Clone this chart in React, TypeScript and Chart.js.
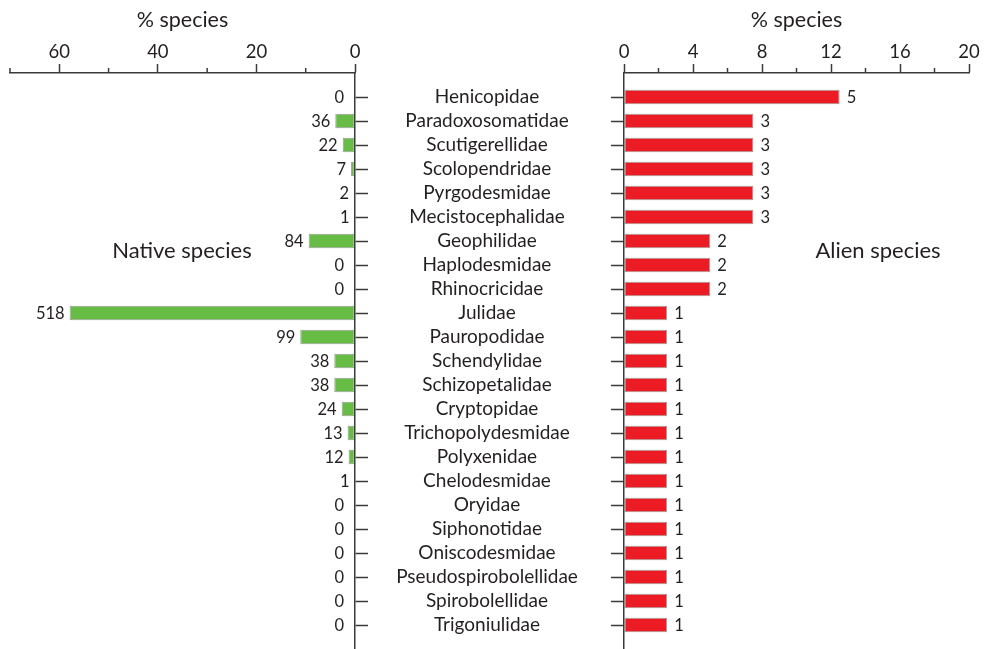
import React, { useEffect, useRef } from 'react';
import { Chart, registerables } from 'chart.js';

Chart.register(...registerables);

const families = [
  'Henicopidae', 'Paradoxosomatidae', 'Scutigerellidae', 'Scolopendridae', 'Pyrgodesmidae',
  'Mecistocephalidae', 'Geophilidae', 'Haplodesmidae', 'Rhinocricidae', 'Julidae',
  'Pauropodidae', 'Schendylidae', 'Schizopetalidae', 'Cryptopidae', 'Trichopolydesmidae',
  'Polyxenidae', 'Chelodesmidae', 'Oryidae', 'Siphonotidae', 'Oniscodesmidae',
  'Pseudospirobolellidae', 'Spirobolellidae', 'Trigoniulidae',
];
const nativeCounts = [0, 36, 22, 7, 2, 1, 84, 0, 0, 518, 99, 38, 38, 24, 13, 12, 1, 0, 0, 0, 0, 0, 0];
const nativePct = [0, 4.0, 2.5, 0.8, 0.2, 0.1, 9.4, 0, 0, 57.9, 11.1, 4.2, 4.2, 2.7, 1.5, 1.3, 0.1, 0, 0, 0, 0, 0, 0];
const alienCounts = [5, 3, 3, 3, 3, 3, 2, 2, 2, 1, 1, 1, 1, 1, 1, 1, 1, 1, 1, 1, 1, 1, 1];
const alienPct = [12.5, 7.5, 7.5, 7.5, 7.5, 7.5, 5, 5, 5, 2.5, 2.5, 2.5, 2.5, 2.5, 2.5, 2.5, 2.5, 2.5, 2.5, 2.5, 2.5, 2.5, 2.5];
const nativeMajorTicks = [0, 20, 40, 60];
const nativeMinorTicks = [10, 30, 50, 70];
const alienMajorTicks = [0, 4, 8, 12, 16, 20];
const alienMinorTicks = [2, 6, 10, 14, 18];
const axisTitle = '% species';

const FONT = 'Lato, "Open Sans", sans-serif';
const TEXT = '#231f20';
const AXIS = '#3a3a3a';
const GREEN = '#67bc46';
const RED = '#ed1c24';
const BAR_BORDER = 'rgba(90,90,90,0.6)';

const labels = ['', ...families, ''];
const padData = (arr: number[]) => [null, ...arr, null];

const minorTicksPlugin = (minor: number[]) => ({
  id: 'minorTicks',
  afterDraw(chart: any) {
    const x = chart.scales.x;
    const ctx = chart.ctx;
    ctx.save();
    ctx.strokeStyle = AXIS;
    ctx.lineWidth = 1.5;
    minor.forEach((v) => {
      const px = x.getPixelForValue(v);
      ctx.beginPath();
      ctx.moveTo(px, x.bottom);
      ctx.lineTo(px, x.bottom - 5);
      ctx.stroke();
    });
    ctx.restore();
  },
});

const valueLabelsPlugin = (counts: number[], side: 'left' | 'right') => ({
  id: 'valueLabels',
  afterDatasetsDraw(chart: any) {
    const meta = chart.getDatasetMeta(0);
    const ctx = chart.ctx;
    ctx.save();
    ctx.font = `16.5px ${FONT}`;
    ctx.fillStyle = TEXT;
    ctx.textBaseline = 'middle';
    meta.data.forEach((el: any, i: number) => {
      const c = counts[i - 1];
      if (c === undefined) return;
      const { x, y, base } = el.getProps(['x', 'y', 'base'], true);
      if (side === 'left') {
        ctx.textAlign = 'right';
        ctx.fillText(String(c), Math.min(x, base) - (c === 0 ? 11 : 5), y + 1);
      } else {
        ctx.textAlign = 'left';
        ctx.fillText(String(c), Math.max(x, base) + 7, y + 1);
      }
    });
    ctx.restore();
  },
});

function measureWidest(font: string) {
  const c = document.createElement('canvas').getContext('2d')!;
  c.font = font;
  return Math.max(...families.map((f) => c.measureText(f).width));
}

export default function App() {
  const leftRef = useRef<HTMLCanvasElement>(null);
  const rightRef = useRef<HTMLCanvasElement>(null);

  useEffect(() => {
    document.body.style.margin = '0';
    const labelSize = 19;
    const widest = measureWidest(`${labelSize}px ${FONT}`);
    const labelPad = 119 - widest / 2;

    const xCommon = (max: number, majors: number[], reverse: boolean) => ({
      type: 'linear' as const,
      position: 'top' as const,
      min: 0,
      max,
      reverse,
      afterBuildTicks: (scale: any) => {
        scale.ticks = majors.map((v) => ({ value: v }));
      },
      afterFit: (scale: any) => {
        scale.height = 73;
        scale.paddingLeft = 0;
        scale.paddingRight = 0;
      },
      ticks: {
        color: TEXT,
        font: { family: FONT, size: 18.5 },
        padding: 1,
        maxRotation: 0,
      },
      grid: {
        drawOnChartArea: false,
        drawTicks: true,
        tickLength: 9,
        tickWidth: 1.5,
        tickColor: AXIS,
      },
      border: { display: true, color: AXIS, width: 1.5 },
      title: {
        display: true,
        text: axisTitle,
        color: TEXT,
        font: { family: FONT, size: 21.5 },
        padding: { top: 7, bottom: 0 },
      },
    });

    const tickColorFn = (ctx: any) =>
      ctx.index === 0 || ctx.index === labels.length - 1 ? 'rgba(0,0,0,0)' : AXIS;

    const left = new Chart(leftRef.current!, {
      type: 'bar',
      data: {
        labels,
        datasets: [
          {
            data: padData(nativePct) as any,
            backgroundColor: GREEN,
            borderColor: BAR_BORDER,
            borderWidth: (ctx: any) => (ctx.raw ? 1 : 0),
            borderSkipped: false,
            barPercentage: 0.75,
            categoryPercentage: 0.8,
          },
        ],
      },
      options: {
        indexAxis: 'y',
        animation: false,
        responsive: false,
        layout: { padding: { left: 10, right: 0, top: 0, bottom: 0 } },
        plugins: { legend: { display: false }, tooltip: { enabled: false } },
        scales: {
          x: xCommon(70, nativeMajorTicks, true) as any,
          y: {
            type: 'category',
            position: 'right',
            offset: false,
            afterFit: (scale: any) => {
              scale.width = 256;
              scale.paddingTop = 0;
              scale.paddingBottom = 0;
            },
            ticks: {
              color: TEXT,
              font: { family: FONT, size: labelSize },
              crossAlign: 'center',
              padding: labelPad,
              autoSkip: false,
            },
            grid: {
              offset: false,
              drawOnChartArea: false,
              drawTicks: true,
              tickLength: 13,
              tickWidth: 1.5,
              tickColor: tickColorFn,
            },
            border: { display: true, color: AXIS, width: 1.5 },
          },
        },
      },
      plugins: [minorTicksPlugin(nativeMinorTicks), valueLabelsPlugin(nativeCounts, 'left')],
    });

    const right = new Chart(rightRef.current!, {
      type: 'bar',
      data: {
        labels,
        datasets: [
          {
            data: padData(alienPct) as any,
            backgroundColor: RED,
            borderColor: BAR_BORDER,
            borderWidth: (ctx: any) => (ctx.raw ? 1 : 0),
            borderSkipped: false,
            barPercentage: 0.75,
            categoryPercentage: 0.8,
          },
        ],
      },
      options: {
        indexAxis: 'y',
        animation: false,
        responsive: false,
        layout: { padding: { left: 0, right: 16, top: 0, bottom: 0 } },
        plugins: { legend: { display: false }, tooltip: { enabled: false } },
        scales: {
          x: xCommon(20, alienMajorTicks, false) as any,
          y: {
            type: 'category',
            position: 'left',
            offset: false,
            afterFit: (scale: any) => {
              scale.width = 13;
              scale.paddingTop = 0;
              scale.paddingBottom = 0;
            },
            ticks: { display: false, autoSkip: false },
            grid: {
              offset: false,
              drawOnChartArea: false,
              drawTicks: true,
              tickLength: 13,
              tickWidth: 1.5,
              tickColor: tickColorFn,
            },
            border: { display: true, color: AXIS, width: 1.5 },
          },
        },
      },
      plugins: [minorTicksPlugin(alienMinorTicks), valueLabelsPlugin(alienCounts, 'right')],
    });

    return () => {
      left.destroy();
      right.destroy();
    };
  }, []);

  const sideLabel: React.CSSProperties = {
    position: 'absolute',
    top: 236,
    fontFamily: FONT,
    fontSize: 22,
    color: TEXT,
    textAlign: 'center',
    width: 200,
    lineHeight: '28px',
    whiteSpace: 'nowrap',
  };

  return (
    <div style={{ position: 'relative', width: 985, height: 649, background: '#fff', overflow: 'hidden' }}>
      <canvas ref={leftRef} width={611} height={649} style={{ position: 'absolute', left: 0, top: 0 }} />
      <canvas ref={rightRef} width={374} height={649} style={{ position: 'absolute', left: 611, top: 0 }} />
      <div style={{ ...sideLabel, left: 182 - 100 }}>Native species</div>
      <div style={{ ...sideLabel, left: 878 - 100 }}>Alien species</div>
    </div>
  );
}
